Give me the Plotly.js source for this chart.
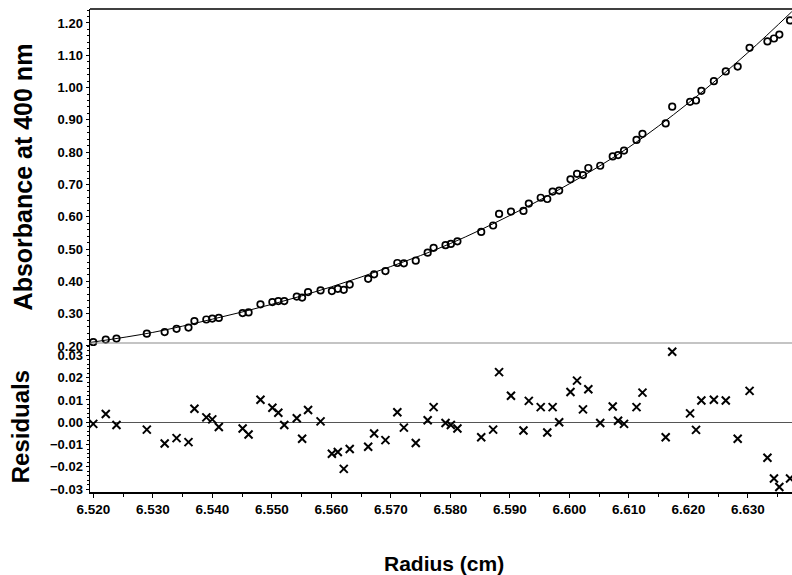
<!DOCTYPE html>
<html>
<head>
<meta charset="utf-8">
<script src="https://cdn.plot.ly/plotly-3.0.1.min.js"></script>
<style>html,body{margin:0;padding:0;background:#fff;}#chart{width:792px;height:575px;}</style>
</head>
<body>
<div id="chart"></div>
<script>
// Radius positions of the data points (cm)
var radius = [6.5200,6.5221,6.5239,6.5290,6.5320,6.5340,6.5360,6.5370,6.5390,6.5400,
  6.5411,6.5451,6.5461,6.5481,6.5501,6.5511,6.5521,6.5542,6.5551,6.5561,
  6.5582,6.5601,6.5611,6.5621,6.5631,6.5662,6.5672,6.5691,6.5711,6.5722,
  6.5742,6.5762,6.5772,6.5792,6.5801,6.5812,6.5852,6.5872,6.5882,6.5902,
  6.5923,6.5932,6.5952,6.5963,6.5972,6.5983,6.6002,6.6013,6.6023,6.6032,
  6.6052,6.6073,6.6082,6.6092,6.6113,6.6123,6.6162,6.6173,6.6203,6.6213,
  6.6222,6.6243,6.6263,6.6283,6.6303,6.6333,6.6344,6.6353,6.6371];
// Absorbance at 400 nm (open circles)
var absorbance = [0.212,0.220,0.223,0.238,0.243,0.253,0.257,0.277,0.282,0.285,
  0.287,0.302,0.304,0.329,0.336,0.339,0.339,0.353,0.350,0.367,
  0.372,0.370,0.377,0.374,0.390,0.408,0.422,0.432,0.457,0.456,
  0.464,0.489,0.504,0.512,0.516,0.524,0.553,0.573,0.609,0.616,
  0.618,0.641,0.659,0.655,0.678,0.681,0.716,0.733,0.729,0.751,
  0.758,0.787,0.791,0.805,0.838,0.857,0.889,0.941,0.956,0.960,
  0.990,1.020,1.050,1.065,1.123,1.143,1.152,1.164,1.208];
// Residuals (x markers)
var residuals = [-0.0007,0.0037,-0.0012,-0.0033,-0.0095,-0.0071,-0.0089,0.0061,0.0022,0.0013,
  -0.0021,-0.0028,-0.0055,0.0101,0.0065,0.0043,-0.0012,0.0018,-0.0074,0.0055,
  0.0004,-0.0141,-0.0133,-0.0209,-0.0120,-0.0110,-0.0050,-0.0080,0.0045,-0.0024,
  -0.0093,0.0009,0.0068,-0.0003,-0.0012,-0.0028,-0.0067,-0.0033,0.0225,0.0119,
  -0.0037,0.0096,0.0068,-0.0046,0.0068,0.0000,0.0136,0.0187,0.0058,0.0148,
  -0.0003,0.0071,0.0007,-0.0007,0.0068,0.0133,-0.0067,0.0316,0.0040,-0.0034,
  0.0098,0.0101,0.0098,-0.0074,0.0141,-0.0159,-0.0252,-0.0290,-0.0252];
// Fitted curve
var fitRadius = [6.5195,6.5300,6.5400,6.5500,6.5600,6.5700,6.5800,6.5900,6.6000,6.6100,6.6200,6.6300,6.6374];
var fitAbs    = [0.211,0.242,0.283,0.329,0.383,0.446,0.517,0.604,0.702,0.815,0.952,1.108,1.235];

var tickFont = {family:'Liberation Sans, Arial, sans-serif', size:13, weight:'bold', color:'#000'};
var xTickFont = {family:'Liberation Sans, Arial, sans-serif', size:13.5, weight:'bold', color:'#000'};
var titleFont = {family:'Liberation Sans, Arial, sans-serif', weight:'bold', color:'#000'};

var traces = [
  {x:fitRadius, y:fitAbs, xaxis:'x', yaxis:'y2', mode:'lines', type:'scatter',
   line:{color:'#000', width:1, shape:'spline', smoothing:1}, hoverinfo:'skip'},
  {x:radius, y:absorbance, xaxis:'x', yaxis:'y2', mode:'markers', type:'scatter',
   marker:{symbol:'circle-open', size:6.5, color:'#000', line:{width:1.7, color:'#000'}}},
  {x:radius, y:residuals, xaxis:'x', yaxis:'y', mode:'markers', type:'scatter',
   marker:{symbol:'x-thin', size:8, color:'#000', line:{width:2, color:'#000'}}}
];

var layout = {
  width:792, height:575,
  margin:{l:90, r:0, t:9, b:83, pad:0},
  paper_bgcolor:'#fff', plot_bgcolor:'#fff',
  showlegend:false,
  xaxis:{
    range:[6.51945, 6.63743], anchor:'y',
    tickvals:[6.52,6.53,6.54,6.55,6.56,6.57,6.58,6.59,6.60,6.61,6.62,6.63],
    tickformat:'.3f', ticks:'outside', ticklen:4, tickwidth:1, tickcolor:'#000',
    minor:{dtick:0.005, tick0:6.52, ticks:'outside', ticklen:3, tickcolor:'#000'},
    showline:true, linecolor:'#000', linewidth:1.5, showgrid:false, zeroline:false,
    tickfont:xTickFont
  },
  yaxis:{
    domain:[0, 0.3085], range:[-0.03126, 0.03556],
    tickvals:[-0.03,-0.02,-0.01,0,0.01,0.02,0.03], tickformat:'.2f',
    ticks:'outside', ticklen:3, tickwidth:1, tickcolor:'#000',
    minor:{dtick:0.002, ticks:'outside', ticklen:2, tickcolor:'#000'},
    showline:true, linecolor:'#000', linewidth:1.5, showgrid:false,
    zeroline:true, zerolinecolor:'#555', zerolinewidth:1.5,
    tickfont:tickFont
  },
  yaxis2:{
    domain:[0.3023, 1], range:[0.2, 1.2433], anchor:'x',
    tickvals:[0.2,0.3,0.4,0.5,0.6,0.7,0.8,0.9,1.0,1.1,1.2], tickformat:'.2f',
    ticks:'outside', ticklen:3, tickwidth:1, tickcolor:'#000',
    minor:{dtick:0.02, tick0:0.2, ticks:'outside', ticklen:2, tickcolor:'#000'},
    showline:true, linecolor:'#000', linewidth:1.5, showgrid:false, zeroline:false,
    tickfont:tickFont
  },
  shapes:[
    {type:'line', xref:'paper', yref:'paper', x0:0, x1:1, y0:1, y1:1, line:{color:'#000', width:1.5}},
    {type:'line', xref:'paper', yref:'paper', x0:0, x1:1, y0:0.3085, y1:0.3085, line:{color:'#8a8a8a', width:1.2}}
  ],
  annotations:[
    {text:'Absorbance at 400 nm', xref:'paper', yref:'paper', x:-0.095, y:0.652, textangle:-90,
     showarrow:false, xanchor:'center', yanchor:'middle', font:Object.assign({size:25}, titleFont)},
    {text:'Residuals', xref:'paper', yref:'paper', x:-0.099, y:0.135, textangle:-90,
     showarrow:false, xanchor:'center', yanchor:'middle', font:Object.assign({size:24}, titleFont)},
    {text:'Radius (cm)', xref:'paper', yref:'paper', x:0.504, y:-0.147,
     showarrow:false, xanchor:'center', yanchor:'middle', font:Object.assign({size:21}, titleFont)}
  ]
};

Plotly.newPlot('chart', traces, layout, {displayModeBar:false, staticPlot:true});
</script>
</body>
</html>
